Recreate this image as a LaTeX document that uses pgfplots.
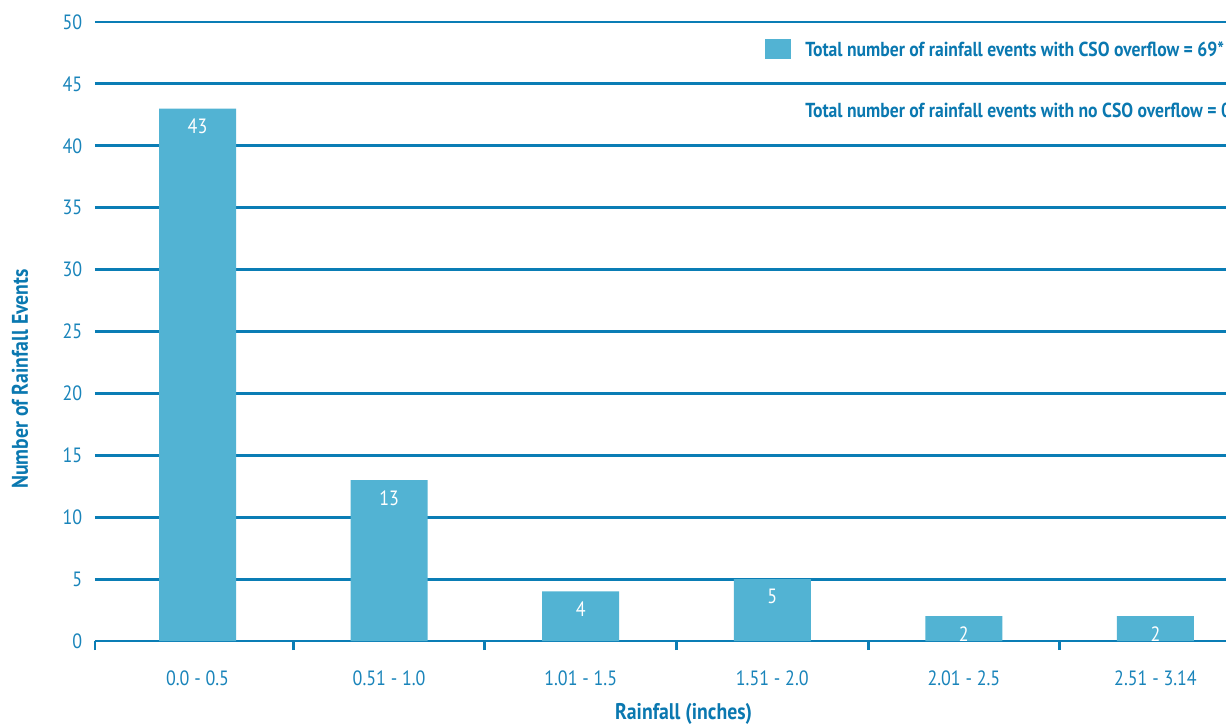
\documentclass[border=0pt]{standalone}
\usepackage{pgfplots}
\pgfplotsset{compat=1.18}
\usepackage{fontspec}
\setmainfont{PT Sans}[FakeStretch=0.87]
\definecolor{barc}{HTML}{52B3D3}
\definecolor{linec}{HTML}{0A7DB5}
\definecolor{textc}{HTML}{1984BA}
\definecolor{legc}{HTML}{0A78B0}
\begin{document}
\begin{tikzpicture}
\begin{axis}[
  at={(0,0)}, anchor=south west,
  scale only axis, width=867.2pt, height=464.25pt,
  xmin=-0.535, xmax=5.5, ymin=0, ymax=50,
  ybar, bar width=57.75pt,
  axis x line=bottom, axis y line=left,
  axis line style={draw=none,-},
  xtick={0,1,2,3,4,5},
  xticklabels={0.0 - 0.5, 0.51 - 1.0, 1.01 - 1.5, 1.51 - 2.0, 2.01 - 2.5, 2.51 - 3.14},
  ytick={0,5,...,50},
  major tick length=0pt,
  ymajorgrids, grid style={linec, line width=2.2pt},
  extra x ticks={-0.535,0.5,1.5,2.5,3.5,4.5,5.5},
  extra x tick labels={},
  extra x tick style={major tick length=6.75pt, tick align=outside, tick style={linec, line width=2.2pt}, grid=none},
  /pgf/number format/assume math mode=true,
  tick label style={font=\fontsize{15.5pt}{18pt}\selectfont, text=textc},
  yticklabel style={xshift=-6pt},
  xticklabel style={anchor=center, yshift=-27.75pt},
  xlabel={Rainfall (inches)},
  ylabel={Number of Rainfall Events},
  label style={font=\fontsize{17pt}{20pt}\selectfont\bfseries, text=legc},
  xlabel style={at={(axis description cs:0.509,0)}, anchor=center, yshift=-54.75pt},
  ylabel style={at={(axis description cs:-0.0649,0.423)}, anchor=center},
  nodes near coords,
  every node near coord/.append style={anchor=north, text=white, inner sep=0pt, yshift=-7.5pt, font=\fontsize{15.5pt}{18pt}\selectfont},
]
\addplot[fill=barc, draw=none] coordinates {(0,43) (1,13) (2,4) (3,5) (4,2) (5,2)};
\fill[barc] (axis cs:2.962,47.01) rectangle (axis cs:3.097,48.63);
\node[anchor=west, inner sep=0pt, text=legc, font=\fontsize{15.2pt}{18pt}\selectfont\bfseries] at (axis cs:3.171,47.82) {Total number of rainfall events with CSO overflow = 69*};
\node[anchor=west, inner sep=0pt, text=legc, font=\fontsize{15.2pt}{18pt}\selectfont\bfseries] at (axis cs:3.171,42.89) {Total number of rainfall events with no CSO overflow = 0};
\end{axis}
\pgfresetboundingbox
\path[use as bounding box] (-71.25pt,-62.25pt) rectangle (848.25pt,480.75pt);
\end{tikzpicture}
\end{document}
